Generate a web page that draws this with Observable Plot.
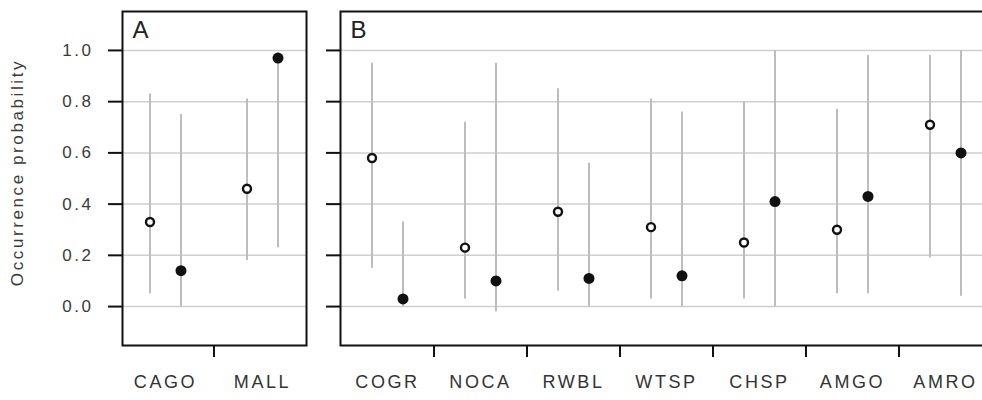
<!DOCTYPE html>
<html><head><meta charset="utf-8">
<script src="https://cdn.jsdelivr.net/npm/d3@7"></script>
<script src="https://cdn.jsdelivr.net/npm/@observablehq/plot@0.6"></script>
<style>
html,body{margin:0;padding:0;background:#fff;overflow:hidden;}
#wrap{position:relative;width:982px;height:400px;overflow:hidden;}
#a,#b{position:absolute;top:0;}
#a{left:0;width:320px;} #b{left:320px;width:672px;}
svg{max-width:none !important;background:transparent !important;}
g[aria-label="x-axis tick label"] text{letter-spacing:2.6px;font-size:18px;}
g[aria-label="y-axis tick label"] text{letter-spacing:2.5px;font-size:17px;}
g[aria-label="y-axis label"] text{letter-spacing:2.6px;font-size:17px;}
</style></head><body><div id="wrap"><div id="a"></div><div id="b"></div></div>
<script>
// Panel A
const speciesA = ["CAGO", "MALL"];
const openMeanA = [0.33, 0.46];
const openLowA = [0.05, 0.18];
const openHighA = [0.83, 0.81];
const filledMeanA = [0.14, 0.97];
const filledLowA = [0.00, 0.23];
const filledHighA = [0.75, 0.99];
// Panel B
const speciesB = ["COGR", "NOCA", "RWBL", "WTSP", "CHSP", "AMGO", "AMRO"];
const openMeanB = [0.58, 0.23, 0.37, 0.31, 0.25, 0.30, 0.71];
const openLowB = [0.15, 0.03, 0.06, 0.03, 0.03, 0.05, 0.19];
const openHighB = [0.95, 0.72, 0.85, 0.81, 0.80, 0.77, 0.98];
const filledMeanB = [0.03, 0.10, 0.11, 0.12, 0.41, 0.43, 0.60];
const filledLowB = [0.00, -0.02, 0.00, 0.00, 0.00, 0.05, 0.04];
const filledHighB = [0.33, 0.95, 0.56, 0.76, 1.00, 0.98, 1.00];
const yTicks = [0, 0.2, 0.4, 0.6, 0.8, 1.0];
const yLabel = "Occurrence probability";

function rows(species, mean, low, high) {
  return species.map((s, i) => ({i, species: s, mean: mean[i], low: low[i], high: high[i]}));
}

function panel({species, open, filled, width, marginLeft, marginRight, xRange, letter, showY}) {
  const n = species.length;
  const font = "'Liberation Sans', Arial, sans-serif";
  const svg = Plot.plot({
    width, height: 400,
    marginTop: 11, marginBottom: 55, marginLeft, marginRight,
    style: {fontFamily: font, background: "transparent", color: "#111", maxWidth: "none"},
    x: {type: "linear", domain: [-0.5, n - 0.5], range: xRange},
    y: {domain: [-0.152, 1.152]},
    marks: [
      Plot.gridY(yTicks, {stroke: "#cfcfcf", strokeOpacity: 1, strokeWidth: 1.5}),
      Plot.ruleX(open, {x: "i", y1: "low", y2: "high", dx: -15.5, stroke: "#bdbdbd", strokeWidth: 2}),
      Plot.ruleX(filled, {x: "i", y1: "low", y2: "high", dx: 15.5, stroke: "#bdbdbd", strokeWidth: 2}),
      Plot.dot(open, {x: "i", y: "mean", dx: -15.5, r: 4, stroke: "#111", strokeWidth: 2.4, fill: "white"}),
      Plot.dot(filled, {x: "i", y: "mean", dx: 15.5, r: 5.5, fill: "#111", stroke: "none"}),
      Plot.frame({stroke: "#111", strokeWidth: 2}),
      Plot.axisY(yTicks, {
        tickSize: 14, tickPadding: 15, stroke: "#111", strokeWidth: 2, fill: "#3a3a3a", fontSize: 17,
        tickFormat: showY ? d3.format(".1f") : () => "",
        label: showY ? yLabel : null, labelAnchor: "center", labelArrow: "none", labelOffset: 112
      }),
      Plot.axisX(d3.range(n), {tickSize: 0, tickPadding: 30, fill: "#333", fontSize: 18, tickFormat: i => species[i], label: null}),
      Plot.axisX(d3.range(n - 1).map(i => i + 0.5), {tickSize: 12, stroke: "#111", strokeWidth: 2, tickFormat: () => "", label: null}),
      Plot.text([letter], {frameAnchor: "top-left", dx: 10, dy: 9, text: d => d, fontSize: 24, fill: "#222", textAnchor: "start", lineAnchor: "top"})
    ]
  });
  const lab = svg.querySelector('g[aria-label="y-axis label"]');
  if (lab) lab.setAttribute("transform", "translate(0,-6) " + (lab.getAttribute("transform") || ""));
  return svg;
}

document.getElementById("a").append(panel({
  species: speciesA,
  open: rows(speciesA, openMeanA, openLowA, openHighA),
  filled: rows(speciesA, filledMeanA, filledLowA, filledHighA),
  width: 320, marginLeft: 122, marginRight: 14, xRange: [116.5, 310.5], letter: "A", showY: true
}));
document.getElementById("b").append(panel({
  species: speciesB,
  open: rows(speciesB, openMeanB, openLowB, openHighB),
  filled: rows(speciesB, filledMeanB, filledLowB, filledHighB),
  width: 672, marginLeft: 20, marginRight: 0, xRange: [20.5, 671.5], letter: "B", showY: false
}));
</script></body></html>
